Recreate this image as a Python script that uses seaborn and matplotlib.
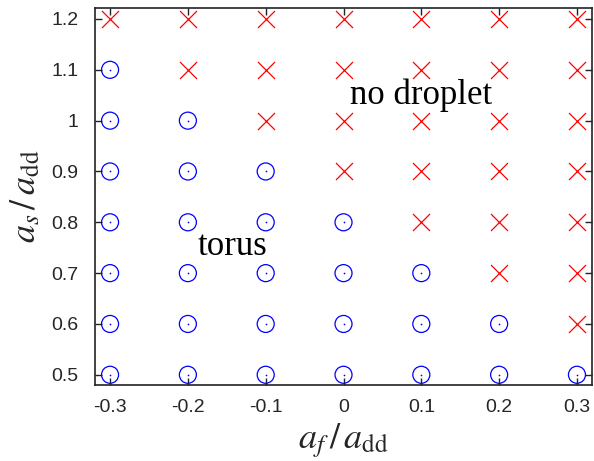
import numpy as np
import pandas as pd
import matplotlib
matplotlib.use("Agg")
import matplotlib.pyplot as plt
import seaborn as sns

# Parameter grid
a_f = [-0.3, -0.2, -0.1, 0.0, 0.1, 0.2, 0.3]
a_s = [0.5, 0.6, 0.7, 0.8, 0.9, 1.0, 1.1, 1.2]
# Largest a_s / a_dd still giving a torus for each a_f / a_dd
torus_max = [1.1, 1.0, 0.9, 0.8, 0.7, 0.6, 0.5]

rows = []
for xf, top in zip(a_f, torus_max):
    for ys in a_s:
        rows.append({"af": xf, "as": ys,
                     "phase": "torus" if ys <= top + 1e-9 else "no droplet"})
df = pd.DataFrame(rows)

sns.set_theme(style="white")
plt.rcParams["font.family"] = ["Liberation Sans", "DejaVu Sans"]
plt.rcParams["mathtext.fontset"] = "stix"

fig = plt.figure(figsize=(5.94, 4.61), dpi=100)
ax = fig.add_axes([0.160, 0.165, 0.8366, 0.8176])

tor = df[df.phase == "torus"]
nod = df[df.phase == "no droplet"]

sns.scatterplot(data=tor, x="af", y="as", ax=ax, marker="o", s=150,
                facecolors="none", edgecolor="#0000ff", linewidth=0.9,
                legend=False)
sns.scatterplot(data=tor, x="af", y="as", ax=ax, marker="o", s=1.5,
                color="#0000ff", linewidth=0, legend=False)
sns.scatterplot(data=nod, x="af", y="as", ax=ax, marker="x", s=150,
                color="#ff0000", linewidth=0.9, legend=False)

ax.set_xlim(-0.3193, 0.3193)
ax.set_ylim(0.48, 1.2216)
ax.set_xticks(a_f)
ax.set_xticklabels(["-0.3", "-0.2", "-0.1", "0", "0.1", "0.2", "0.3"])
ax.set_yticks(a_s)
ax.set_yticklabels(["0.5", "0.6", "0.7", "0.8", "0.9", "1", "1.1", "1.2"])

ax.tick_params(direction="in", length=5, width=1.0, color="#222222",
               labelsize=14, top=True, right=True, bottom=True, left=True,
               pad=10)
ax.tick_params(axis="y", pad=12)
for sp in ax.spines.values():
    sp.set_visible(True)
    sp.set_color("#222222")
    sp.set_linewidth(1.2)

ax.set_xlabel(r"$a_f\,/\,a_{\rm dd}$", fontsize=26, labelpad=4)
ax.set_ylabel(r"$a_s\,/\,a_{\rm dd}$", fontsize=26, labelpad=6)

ax.text(0.1, 1.05, "no droplet", family="Liberation Serif", fontsize=25,
        ha="center", va="center", color="black")
ax.text(-0.143, 0.752, "torus", family="Liberation Serif", fontsize=25,
        ha="center", va="center", color="black")

fig.savefig("out.png", dpi=100)
